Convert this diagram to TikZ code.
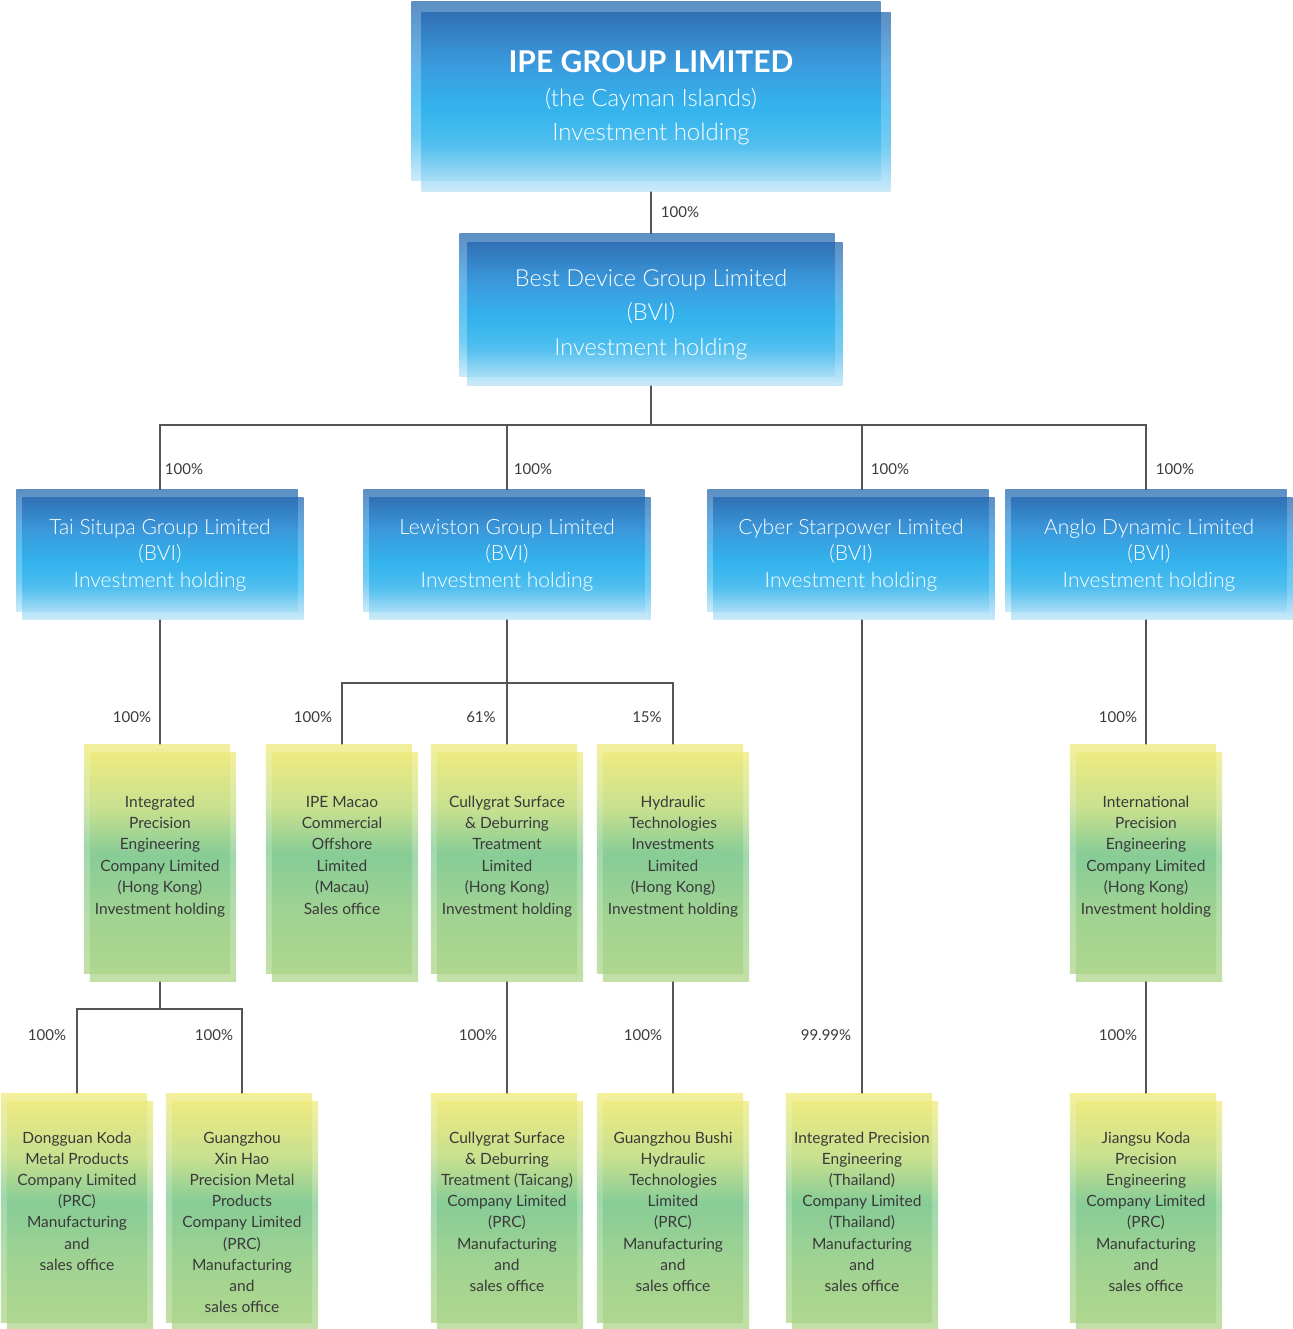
\documentclass[tikz,border=0pt]{standalone}
\usepackage{fontspec}
\setmainfont{Lato}
\newfontfamily\latolight{Lato Light}
\usetikzlibrary{backgrounds}

\definecolor{bluetop}{HTML}{1F63AD}
\definecolor{blueupper}{HTML}{2A93DB}
\definecolor{bluemid}{HTML}{22AEEC}
\definecolor{bluelow}{HTML}{40B9EE}
\definecolor{bluebot}{HTML}{B8E2F7}
\definecolor{greentop}{HTML}{EEEA76}
\definecolor{greenupper}{HTML}{C4DE86}
\definecolor{greenmid}{HTML}{7DC88E}
\definecolor{greenlow}{HTML}{98CF8A}
\definecolor{greenbot}{HTML}{AAD384}
\definecolor{linegray}{HTML}{555555}
\definecolor{textgray}{HTML}{3A3A3A}

\pgfdeclareverticalshading{bluegrad}{100bp}{color(0bp)=(bluebot); color(25bp)=(bluebot);
  color(37.5bp)=(bluelow); color(47.5bp)=(bluemid); color(60bp)=(blueupper);
  color(75bp)=(bluetop); color(100bp)=(bluetop)}
\pgfdeclareverticalshading{greengrad}{100bp}{color(0bp)=(greenbot); color(25bp)=(greenbot);
  color(40bp)=(greenlow); color(52.5bp)=(greenmid); color(62.5bp)=(greenupper);
  color(75bp)=(greentop); color(100bp)=(greentop)}

\begin{document}
\begin{tikzpicture}[x=1pt,y=-1pt,
    link/.style={draw=linegray, line width=1.4pt},
    pct/.style={inner sep=0pt, text=textgray, font=\fontsize{15}{17}\selectfont},
    company/.style={inner sep=0pt, align=center},
    % text height runs from the top edge down to the last baseline
    topbox/.style={company, minimum width=479pt, text height=138.5pt, text depth=50.5pt,
        text=white, font=\latolight\fontsize{24}{34}\selectfont},
    midbox/.style={company, minimum width=383pt, text height=121pt, text depth=30pt,
        text=white, font=\latolight\fontsize{23.5}{34.5}\selectfont},
    holdbox/.style={company, minimum width=287pt, text height=97pt, text depth=32pt,
        text=white, font=\latolight\fontsize{21}{26.5}\selectfont},
    subbox/.style={company, minimum width=152pt, text height=169pt, text depth=67pt,
        text=textgray, font=\fontsize{15.5}{21.4}\selectfont},
    plantbox/.style 2 args={company, minimum width=152pt, text height=#1, text depth=#2,
        text=textgray, font=\fontsize{15.5}{21.2}\selectfont}
]
    \useasboundingbox (0,0) rectangle (1292,1329);

    % holding companies
    \node[topbox] (ipe) at (651,96.5)
        {{\normalfont\bfseries\fontsize{30}{34}\selectfont IPE GROUP LIMITED}\\(the Cayman Islands)\\Investment holding};
    \node[midbox] (bestdev) at (651,309.5) {Best Device Group Limited\\(BVI)\\Investment holding};

    \node[holdbox] (taisitupa) at (160,554.5) {Tai Situpa Group Limited\\(BVI)\\Investment holding};
    \node[holdbox] (lewiston) at (507,554.5) {Lewiston Group Limited\\(BVI)\\Investment holding};
    \node[holdbox] (cyber) at (851,554.5) {Cyber Starpower Limited\\(BVI)\\Investment holding};
    \node[holdbox] (anglo) at (1149,554.5) {Anglo Dynamic Limited\\(BVI)\\Investment holding};

    % subsidiaries
    \node[subbox] (inthk) at (160,863)
        {Integrated\\Precision\\Engineering\\Company Limited\\(Hong Kong)\\Investment holding};
    \node[subbox] (ipemacao) at (342,863)
        {IPE Macao\\Commercial\\Offshore\\Limited\\(Macau)\\Sales office};
    \node[subbox] (cullygrat) at (507,863)
        {Cullygrat Surface\\\& Deburring\\Treatment\\Limited\\(Hong Kong)\\Investment holding};
    \node[subbox] (hydraulic) at (673,863)
        {Hydraulic\\Technologies\\Investments\\Limited\\(Hong Kong)\\Investment holding};
    \node[subbox] (intpe) at (1146,863)
        {International\\Precision\\Engineering\\Company Limited\\(Hong Kong)\\Investment holding};

    % manufacturing plants
    \node[plantbox={176.2pt}{59.8pt}] (dongguan) at (77,1212)
        {Dongguan Koda\\Metal Products\\Company Limited\\(PRC)\\Manufacturing\\and\\sales office};
    \node[plantbox={218.6pt}{17.4pt}] (xinhao) at (242,1212)
        {Guangzhou\\Xin Hao\\Precision Metal\\Products\\Company Limited\\(PRC)\\Manufacturing\\and\\sales office};
    \node[plantbox={197.4pt}{38.6pt}] (taicang) at (507,1212)
        {Cullygrat Surface\\\& Deburring\\Treatment (Taicang)\\Company Limited\\(PRC)\\Manufacturing\\and\\sales office};
    \node[plantbox={197.4pt}{38.6pt}] (bushi) at (673,1212)
        {Guangzhou Bushi\\Hydraulic\\Technologies\\Limited\\(PRC)\\Manufacturing\\and\\sales office};
    \node[plantbox={197.4pt}{38.6pt}] (intthai) at (862,1212)
        {Integrated Precision\\Engineering\\(Thailand)\\Company Limited\\(Thailand)\\Manufacturing\\and\\sales office};
    \node[plantbox={197.4pt}{38.6pt}] (jiangsu) at (1146,1212)
        {Jiangsu Koda\\Precision\\Engineering\\Company Limited\\(PRC)\\Manufacturing\\and\\sales office};

    % shareholdings
    \node[pct] (p1) at (680,212) {100\%};
    \node[pct] (p2) at (184,469) {100\%};
    \node[pct] (p3) at (533,469) {100\%};
    \node[pct] (p4) at (890,469) {100\%};
    \node[pct] (p5) at (1175,469) {100\%};
    \node[pct] (p6) at (132,717) {100\%};
    \node[pct] (p7) at (313,717) {100\%};
    \node[pct] (p8) at (481,717) {61\%};
    \node[pct] (p9) at (647,717) {15\%};
    \node[pct] (p10) at (1118,717) {100\%};
    \node[pct] (p11) at (47,1035) {100\%};
    \node[pct] (p12) at (214,1035) {100\%};
    \node[pct] (p13) at (478,1035) {100\%};
    \node[pct] (p14) at (643,1035) {100\%};
    \node[pct] (p15) at (826,1035) {99.99\%};
    \node[pct] (p16) at (1118,1035) {100\%};

    \begin{scope}[on background layer]
        \coordinate (bus1) at (651,425);
        \coordinate (bus2) at (507,683);
        \coordinate (bus3) at (160,1009);

        \draw[link] (ipe.south) -- (bestdev.north);
        \draw[link] (bestdev.south) -- (bus1);
        \draw[link] (taisitupa.north) |- (bus1) -| (anglo.north -| intpe.north);
        \draw[link] (lewiston.north) -- (lewiston.north |- bus1);
        \draw[link] (cyber.north -| intthai.north) -- (intthai.north |- bus1);

        \draw[link] (taisitupa.south) -- (inthk.north);
        \draw[link] (lewiston.south) -- (bus2);
        \draw[link] (ipemacao.north) |- (bus2) -| (hydraulic.north);
        \draw[link] (bus2) -- (cullygrat.north);
        \draw[link] (intthai.north) -- (intthai.north |- cyber.south);
        \draw[link] (intpe.north) -- (intpe.north |- anglo.south);

        \draw[link] (inthk.south) -- (bus3);
        \draw[link] (dongguan.north) |- (bus3) -| (xinhao.north);
        \draw[link] (cullygrat.south) -- (taicang.north);
        \draw[link] (hydraulic.south) -- (bushi.north);
        \draw[link] (intpe.south) -- (jiangsu.north);

        % two overlapping translucent panels per company
        \foreach \n/\dx/\dy/\sh in {ipe/10/11/bluegrad, bestdev/8/9/bluegrad,
                taisitupa/6/8/bluegrad, lewiston/6/8/bluegrad, cyber/6/8/bluegrad, anglo/6/8/bluegrad,
                inthk/6/8/greengrad, ipemacao/6/8/greengrad, cullygrat/6/8/greengrad,
                hydraulic/6/8/greengrad, intpe/6/8/greengrad,
                dongguan/6/8/greengrad, xinhao/6/8/greengrad, taicang/6/8/greengrad,
                bushi/6/8/greengrad, intthai/6/8/greengrad, jiangsu/6/8/greengrad}{
            \shade[shading=\sh, fill opacity=.72] (\n.north west) rectangle ([shift={(-\dx,-\dy)}]\n.south east);
            \shade[shading=\sh, fill opacity=.72] ([shift={(\dx,\dy)}]\n.north west) rectangle (\n.south east);
        }
    \end{scope}
\end{tikzpicture}
\end{document}
